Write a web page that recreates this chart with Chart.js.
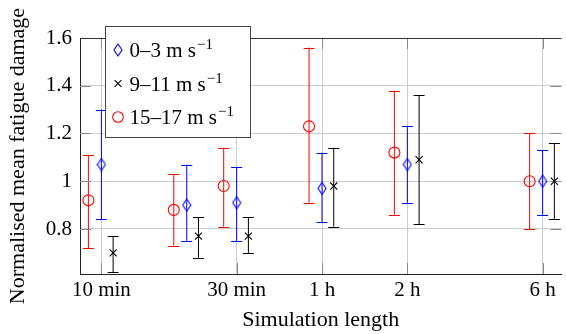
<!DOCTYPE html>
<html><head><meta charset="utf-8">
<script src="https://cdn.jsdelivr.net/npm/chart.js@4/dist/chart.umd.min.js"></script>
<style>html,body{margin:0;padding:0;overflow:hidden;background:#fff}</style>
</head><body>
<canvas id="c" width="568" height="334"></canvas>
<script>
// ---- data (minutes on x) ----
const simLengths   = [10, 20, 30, 60, 120, 360];
const xTickValues  = [10, 30, 60, 120, 360];
const xTickLabels  = ['10 min', '30 min', '1 h', '2 h', '6 h'];
const yTickValues  = [0.8, 1.0, 1.2, 1.4, 1.6];
const yTickLabels  = ['0.8', '1', '1.2', '1.4', '1.6'];
const seriesNames  = ['0–3 m s', '9–11 m s', '15–17 m s'];
const seriesSup    = ['−1', '−1', '−1'];

const lowMean  = [1.07, 0.90, 0.91, 0.97, 1.07, 1.00];
const lowLo    = [0.84, 0.75, 0.75, 0.83, 0.91, 0.86];
const lowHi    = [1.30, 1.07, 1.06, 1.12, 1.23, 1.13];
const midMean  = [0.70, 0.77, 0.77, 0.98, 1.09, 1.00];
const midLo    = [0.62, 0.68, 0.70, 0.81, 0.82, 0.84];
const midHi    = [0.77, 0.85, 0.85, 1.14, 1.36, 1.16];
const highMean = [0.92, 0.88, 0.98, 1.23, 1.12, 1.00];
const highLo   = [0.72, 0.73, 0.81, 0.91, 0.86, 0.80];
const highHi   = [1.11, 1.03, 1.14, 1.56, 1.38, 1.20];

const FONT = "'Liberation Serif', 'Times New Roman', serif";
const DODGE = [1.0, 1.1, 0.9];

function diamond(color) {
  const c = document.createElement('canvas');
  c.width = 10; c.height = 14;
  const g = c.getContext('2d');
  g.strokeStyle = color; g.lineWidth = 1.1;
  g.beginPath(); g.moveTo(5, 1); g.lineTo(9, 7); g.lineTo(5, 13); g.lineTo(1, 7); g.closePath(); g.stroke();
  return c;
}
const diamondImg = diamond('#0000ff');

function mk(label, sup, means, lo, hi, dodge, color, style, radius) {
  return {
    label, sup,
    data: simLengths.map((x, i) => ({x: x * dodge, y: means[i]})),
    errLo: lo, errHi: hi,
    borderColor: color, backgroundColor: 'rgba(0,0,0,0)',
    pointStyle: style, pointRadius: radius, pointBorderWidth: 1.1,
    showLine: false
  };
}

const datasets = [
  mk(seriesNames[0], seriesSup[0], lowMean, lowLo, lowHi, DODGE[0], '#0000ff', diamondImg, 5),
  mk(seriesNames[1], seriesSup[1], midMean, midLo, midHi, DODGE[1], '#000000', 'crossRot', 5),
  mk(seriesNames[2], seriesSup[2], highMean, highLo, highHi, DODGE[2], '#ff0000', 'circle', 5.5)
];

const errorBars = {
  id: 'errorBars',
  beforeDatasetsDraw(chart) {
    const {ctx, scales: {x, y}} = chart;
    ctx.save();
    chart.data.datasets.forEach((ds, di) => {
      const meta = chart.getDatasetMeta(di);
      ctx.strokeStyle = ds.borderColor; ctx.lineWidth = 1;
      ds.data.forEach((p, i) => {
        const px = meta.data[i] ? meta.data[i].x : x.getPixelForValue(p.x);
        const y1 = y.getPixelForValue(ds.errLo[i]);
        const y2 = y.getPixelForValue(ds.errHi[i]);
        ctx.beginPath();
        ctx.moveTo(px, y1); ctx.lineTo(px, y2);
        ctx.moveTo(px - 5.5, Math.round(y1) + 0.5); ctx.lineTo(px + 5.5, Math.round(y1) + 0.5);
        ctx.moveTo(px - 5.5, Math.round(y2) + 0.5); ctx.lineTo(px + 5.5, Math.round(y2) + 0.5);
        ctx.stroke();
      });
    });
    ctx.restore();
  }
};

const frame = {
  id: 'frame',
  beforeDatasetsDraw(chart) {
    const {ctx, chartArea: a, scales: {x, y}} = chart;
    ctx.save();
    ctx.strokeStyle = '#8a8a8a'; ctx.lineWidth = 1;
    ctx.beginPath();
    xTickValues.forEach(v => {
      const px = Math.round(x.getPixelForValue(v)) + 0.5;
      ctx.moveTo(px, a.bottom); ctx.lineTo(px, a.bottom - 11);
      ctx.moveTo(px, a.top); ctx.lineTo(px, a.top + 11);
    });
    yTickValues.forEach(v => {
      const py = Math.round(y.getPixelForValue(v)) + 0.5;
      ctx.moveTo(a.left, py); ctx.lineTo(a.left + 11, py);
      ctx.moveTo(a.right, py); ctx.lineTo(a.right - 11, py);
    });
    ctx.stroke();
    ctx.strokeStyle = '#333'; ctx.beginPath();
    ctx.moveTo(a.left, Math.round(a.top) + 0.5); ctx.lineTo(a.right, Math.round(a.top) + 0.5);
    ctx.stroke();
    ctx.restore();
  }
};

const legendBox = {
  id: 'legendBox',
  afterDraw(chart) {
    const {ctx} = chart;
    const bx = 105.5, by = 26.5, bw = 145, bh = 111;
    ctx.save();
    ctx.fillStyle = '#fff'; ctx.fillRect(bx, by, bw, bh);
    ctx.strokeStyle = '#444'; ctx.lineWidth = 1; ctx.strokeRect(bx, by, bw, bh);
    const rows = [50, 83.5, 117];
    chart.data.datasets.forEach((ds, i) => {
      const cy = rows[i], mx = 118;
      ctx.strokeStyle = ds.borderColor; ctx.lineWidth = 1.1;
      if (ds.pointStyle === 'circle') {
        ctx.beginPath(); ctx.arc(mx, cy, 5.3, 0, Math.PI * 2); ctx.stroke();
      } else if (ds.pointStyle === 'crossRot') {
        ctx.beginPath(); ctx.moveTo(mx - 3.4, cy - 3.4); ctx.lineTo(mx + 3.4, cy + 3.4);
        ctx.moveTo(mx + 3.4, cy - 3.4); ctx.lineTo(mx - 3.4, cy + 3.4); ctx.stroke();
      } else {
        ctx.drawImage(diamondImg, mx - 5, cy - 7);
      }
      ctx.fillStyle = '#000';
      ctx.textBaseline = 'alphabetic';
      ctx.font = '21px ' + FONT;
      const tx = 129.5, base = cy + 7;
      ctx.fillText(ds.label, tx, base);
      const w = ctx.measureText(ds.label).width;
      ctx.font = '15px ' + FONT;
      ctx.fillText(ds.sup, tx + w + 1, base - 8);
    });
    ctx.restore();
  }
};

new Chart(document.getElementById('c'), {
  type: 'scatter',
  data: {datasets},
  options: {
    responsive: false, animation: false, devicePixelRatio: 1,
    layout: {padding: {left: 0, top: 38, right: 0, bottom: 0}},
    plugins: {legend: {display: false}, tooltip: {enabled: false}},
    scales: {
      x: {
        type: 'logarithmic', min: 8.405, max: 419.3,
        afterBuildTicks: s => { s.ticks = xTickValues.map(v => ({value: v})); },
        afterFit: s => { s.height = 60; },
        ticks: {
          callback: (v, i) => xTickLabels[i],
          font: {family: FONT, size: 21}, color: '#000', padding: 4,
          maxRotation: 0, autoSkip: false
        },
        grid: {color: '#cccccc', drawTicks: false, lineWidth: 1},
        border: {color: '#222', width: 1},
        title: {display: true, text: 'Simulation length', font: {family: FONT, size: 22}, color: '#000', padding: {top: 0, bottom: 1}}
      },
      y: {
        min: 0.6115, max: 1.6,
        afterBuildTicks: s => { s.ticks = yTickValues.map(v => ({value: v})); },
        afterFit: s => { s.width = 80; },
        ticks: {
          callback: (v, i) => yTickLabels[i],
          font: {family: FONT, size: 21}, color: '#000', padding: 8
        },
        grid: {color: '#cccccc', drawTicks: false, lineWidth: 1},
        border: {color: '#222', width: 1},
        title: {display: true, text: 'Normalised mean fatigue damage', font: {family: FONT, size: 22}, color: '#000', padding: {top: 5, bottom: 0}}
      }
    }
  },
  plugins: [errorBars, frame, legendBox]
});
</script>
</body></html>
